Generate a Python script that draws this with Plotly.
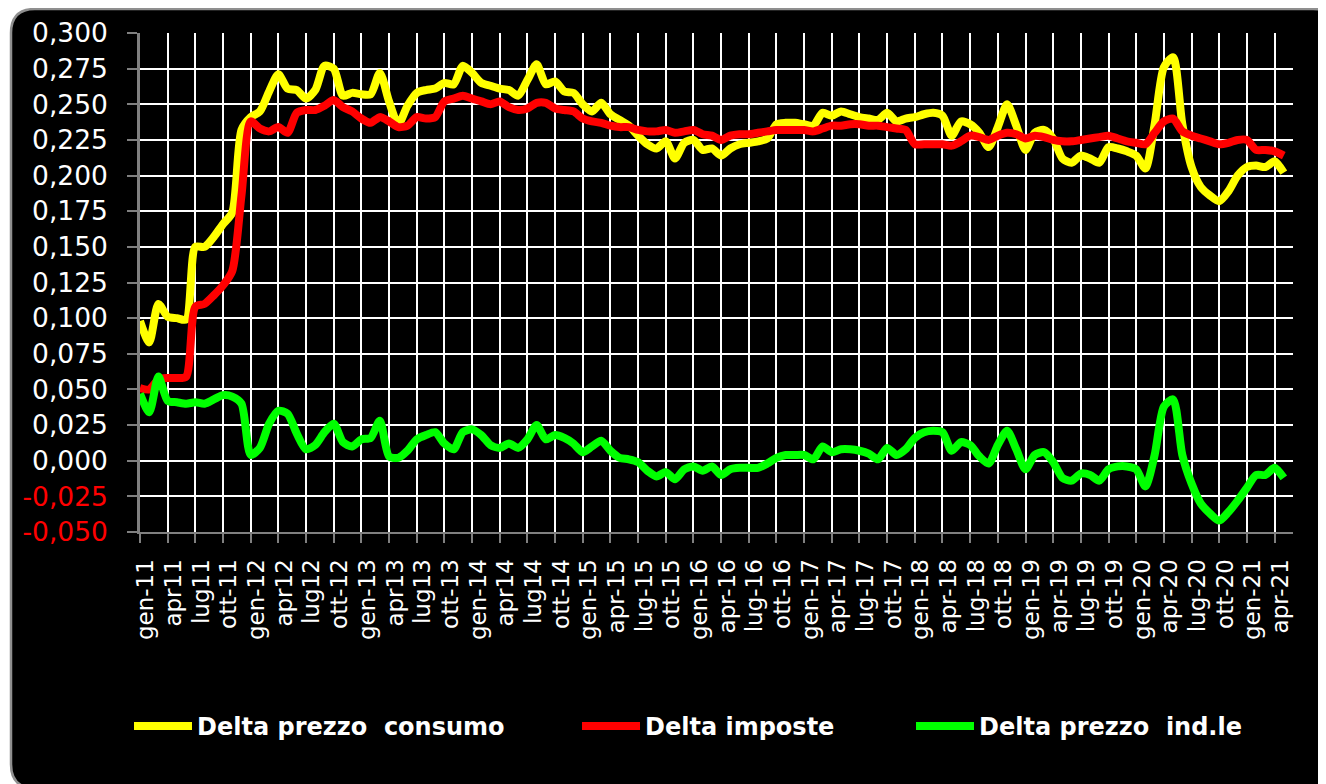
import plotly.graph_objects as go

# ---- data -------------------------------------------------------------
month_names = ["gen", "feb", "mar", "apr", "mag", "giu",
               "lug", "ago", "set", "ott", "nov", "dic"]
years = ["11", "12", "13", "14", "15", "16", "17", "18", "19", "20", "21"]
categories = [m + "-" + y for y in years for m in month_names][:125]  # gen-11 .. mag-21

delta_consumo = [
    0.098, 0.083, 0.110, 0.101, 0.100, 0.099, 0.150, 0.150, 0.157, 0.166, 0.174, 0.232,
    0.241, 0.245, 0.259, 0.271, 0.261, 0.260, 0.254, 0.260, 0.277, 0.275, 0.256, 0.258,
    0.257, 0.257, 0.272, 0.252, 0.236, 0.249, 0.258, 0.260, 0.261, 0.265, 0.264, 0.277,
    0.272, 0.265, 0.263, 0.261, 0.260, 0.256, 0.267, 0.278, 0.264, 0.266, 0.259, 0.258,
    0.250, 0.245, 0.251, 0.243, 0.239, 0.235, 0.228, 0.222, 0.219, 0.224, 0.212, 0.223,
    0.225, 0.218, 0.219, 0.214, 0.219, 0.222, 0.223, 0.224, 0.226, 0.236, 0.237, 0.237,
    0.236, 0.235, 0.244, 0.242, 0.245, 0.243, 0.241, 0.240, 0.239, 0.244, 0.238, 0.240,
    0.241, 0.243, 0.244, 0.242, 0.228, 0.238, 0.236, 0.230, 0.220, 0.234, 0.250, 0.235,
    0.218, 0.230, 0.232, 0.226, 0.212, 0.209, 0.214, 0.212, 0.209, 0.220, 0.219, 0.217,
    0.214, 0.205, 0.236, 0.276, 0.283, 0.236, 0.206, 0.192, 0.186, 0.182, 0.189, 0.200,
    0.206, 0.207, 0.206, 0.210, 0.202,
]

delta_imposte = [
    0.051, 0.050, 0.057, 0.058, 0.058, 0.059, 0.108, 0.110, 0.116, 0.123, 0.133, 0.186,
    0.238, 0.233, 0.231, 0.234, 0.230, 0.244, 0.246, 0.246, 0.249, 0.253, 0.248, 0.245,
    0.240, 0.237, 0.241, 0.238, 0.234, 0.235, 0.241, 0.240, 0.241, 0.252, 0.254, 0.256,
    0.254, 0.252, 0.250, 0.252, 0.248, 0.246, 0.247, 0.251, 0.251, 0.247, 0.246, 0.245,
    0.240, 0.238, 0.237, 0.235, 0.234, 0.234, 0.232, 0.231, 0.231, 0.232, 0.230, 0.231,
    0.232, 0.229, 0.228, 0.225, 0.228, 0.229, 0.229, 0.230, 0.231, 0.232, 0.232, 0.232,
    0.232, 0.231, 0.233, 0.235, 0.235, 0.236, 0.236, 0.235, 0.235, 0.234, 0.233, 0.232,
    0.222, 0.222, 0.222, 0.222, 0.221, 0.224, 0.228, 0.227, 0.225, 0.228, 0.230, 0.229,
    0.226, 0.228, 0.227, 0.225, 0.224, 0.224, 0.225, 0.226, 0.227, 0.228, 0.226, 0.224,
    0.223, 0.222, 0.230, 0.238, 0.240, 0.231, 0.228, 0.226, 0.224, 0.222, 0.223, 0.225,
    0.225, 0.218, 0.218, 0.217, 0.214,
]

delta_industriale = [
    0.047, 0.034, 0.059, 0.042, 0.041, 0.040, 0.041, 0.040, 0.043, 0.046, 0.045, 0.040,
    0.004, 0.009, 0.026, 0.035, 0.033, 0.019, 0.008, 0.011, 0.020, 0.026, 0.013, 0.010,
    0.015, 0.016, 0.028, 0.003, 0.002, 0.007, 0.015, 0.018, 0.020, 0.012, 0.008, 0.020,
    0.022, 0.018, 0.011, 0.009, 0.012, 0.009, 0.015, 0.025, 0.015, 0.018, 0.016, 0.012,
    0.006, 0.010, 0.014, 0.007, 0.002, 0.001, -0.001, -0.007, -0.011, -0.008, -0.013, -0.006,
    -0.004, -0.007, -0.004, -0.010, -0.006, -0.005, -0.005, -0.005, -0.002, 0.002, 0.004, 0.004,
    0.004, 0.001, 0.010, 0.006, 0.008, 0.008, 0.007, 0.005, 0.001, 0.009, 0.004, 0.008,
    0.016, 0.020, 0.021, 0.020, 0.007, 0.013, 0.011, 0.003, -0.002, 0.011, 0.021, 0.008,
    -0.006, 0.004, 0.006, -0.001, -0.012, -0.014, -0.009, -0.010, -0.014, -0.006, -0.004, -0.004,
    -0.006, -0.018, 0.004, 0.038, 0.043, 0.004, -0.016, -0.030, -0.037, -0.042, -0.036, -0.028,
    -0.019, -0.010, -0.010, -0.005, -0.012,
]

x_tick_labels = [
    "gen-11", "apr11", "lug11", "ott-11", "gen-12", "apr12", "lug12", "ott-12",
    "gen-13", "apr13", "lug13", "ott-13", "gen-14", "apr14", "lug14", "ott-14",
    "gen-15", "apr-15", "lug-15", "ott-15", "gen-16", "apr-16", "lug-16", "ott-16",
    "gen-17", "apr-17", "lug-17", "ott-17", "gen-18", "apr-18", "lug-18", "ott-18",
    "gen-19", "apr-19", "lug-19", "ott-19", "gen-20", "apr-20", "lug-20", "ott-20",
    "gen-21", "apr-21",
]
x_tick_vals = categories[0::3][:len(x_tick_labels)]

y_tick_vals = [-0.050, -0.025, 0.000, 0.025, 0.050, 0.075, 0.100, 0.125, 0.150,
               0.175, 0.200, 0.225, 0.250, 0.275, 0.300]
y_grid_vals = y_tick_vals[1:-1]
y_tick_text = []
for v in y_tick_vals:
    s = f"{v:.3f}".replace(".", ",")
    if v < 0:
        s = f"<span style='color:#ff0000'>{s}</span>"
    y_tick_text.append(s)

series = [
    ("Delta prezzo  consumo", delta_consumo, "#ffff00", "legend"),
    ("Delta imposte", delta_imposte, "#ff0000", "legend2"),
    ("Delta prezzo  ind.le", delta_industriale, "#00ff00", "legend3"),
]

# ---- figure -----------------------------------------------------------
# the page body has an 8px margin, so the figure is 8px smaller than the window
W, H = 1318, 776
L, R, T, B = 132, 33, 25, 251.5
pw, ph = W - L - R, H - T - B

def px_x(p):
    return (p - L) / pw

def px_y(p):
    return (H - B - p) / ph

fig = go.Figure()
for name, vals, color, lg in series:
    fig.add_trace(go.Scatter(
        x=categories, y=vals, name=name.replace("  ", "\u00a0 "), mode="lines",
        line=dict(color=color, width=8, shape="spline", smoothing=0.7),
        legend=lg,
    ))

# rounded black frame
x0, x1 = px_x(3), px_x(1329)
y0, y1 = px_y(1), px_y(781)
rx = 24 / pw
ry = 24 / ph
path = (f"M {x0 + rx},{y0} L {x1 - rx},{y0} Q {x1},{y0} {x1},{y0 - ry} "
        f"L {x1},{y1 + ry} Q {x1},{y1} {x1 - rx},{y1} "
        f"L {x0 + rx},{y1} Q {x0},{y1} {x0},{y1 + ry} "
        f"L {x0},{y0 - ry} Q {x0},{y0} {x0 + rx},{y0} Z")
fig.add_shape(type="path", path=path, xref="paper", yref="paper",
              fillcolor="#000000", line=dict(color="#8f8f8f", width=2.5),
              layer="below")

legend_font = dict(family="DejaVu Sans", size=24, color="#ffffff", weight="bold")
legend_common = dict(orientation="h", yanchor="middle", y=px_y(719), xanchor="left",
                     font=legend_font, bgcolor="rgba(0,0,0,0)", itemwidth=58,
                     borderwidth=0)

fig.update_layout(
    width=W, height=H,
    margin=dict(l=L, r=R, t=T, b=B, autoexpand=False),
    paper_bgcolor="#ffffff",
    plot_bgcolor="#000000",
    showlegend=True,
    legend=dict(x=px_x(121), **legend_common),
    legend2=dict(x=px_x(569), **legend_common),
    legend3=dict(x=px_x(903), **legend_common),
    font=dict(family="DejaVu Sans", color="#ffffff"),
    xaxis=dict(
        type="category", categoryorder="array", categoryarray=categories,
        range=[0, 125], tickmode="array", tickvals=x_tick_vals, ticktext=x_tick_labels,
        tickangle=-90, tickfont=dict(family="DejaVu Sans", size=23, color="#ffffff"),
        showgrid=True, gridcolor="#ffffff", gridwidth=1.6,
        ticks="outside", ticklen=9, tickwidth=2, tickcolor="#808080",
        ticklabelstandoff=7, ticklabelshift=6,
        showline=True, linecolor="#808080", linewidth=2,
        zeroline=False, fixedrange=True,
    ),
    yaxis=dict(
        range=[-0.05, 0.30], tickmode="array", tickvals=y_tick_vals, ticktext=y_tick_text,
        tickfont=dict(family="DejaVu Sans", size=26.5, color="#ffffff"),
        showgrid=False,
        minor=dict(tickmode="array", tickvals=y_grid_vals, showgrid=True,
                   gridcolor="#ffffff", gridwidth=1.6, ticks=""),
        ticks="outside", ticklen=10, tickwidth=2, tickcolor="#808080",
        ticklabelstandoff=14,
        showline=True, linecolor="#808080", linewidth=2.5,
        zeroline=False, fixedrange=True,
    ),
)

fig.write_html("out.html")
